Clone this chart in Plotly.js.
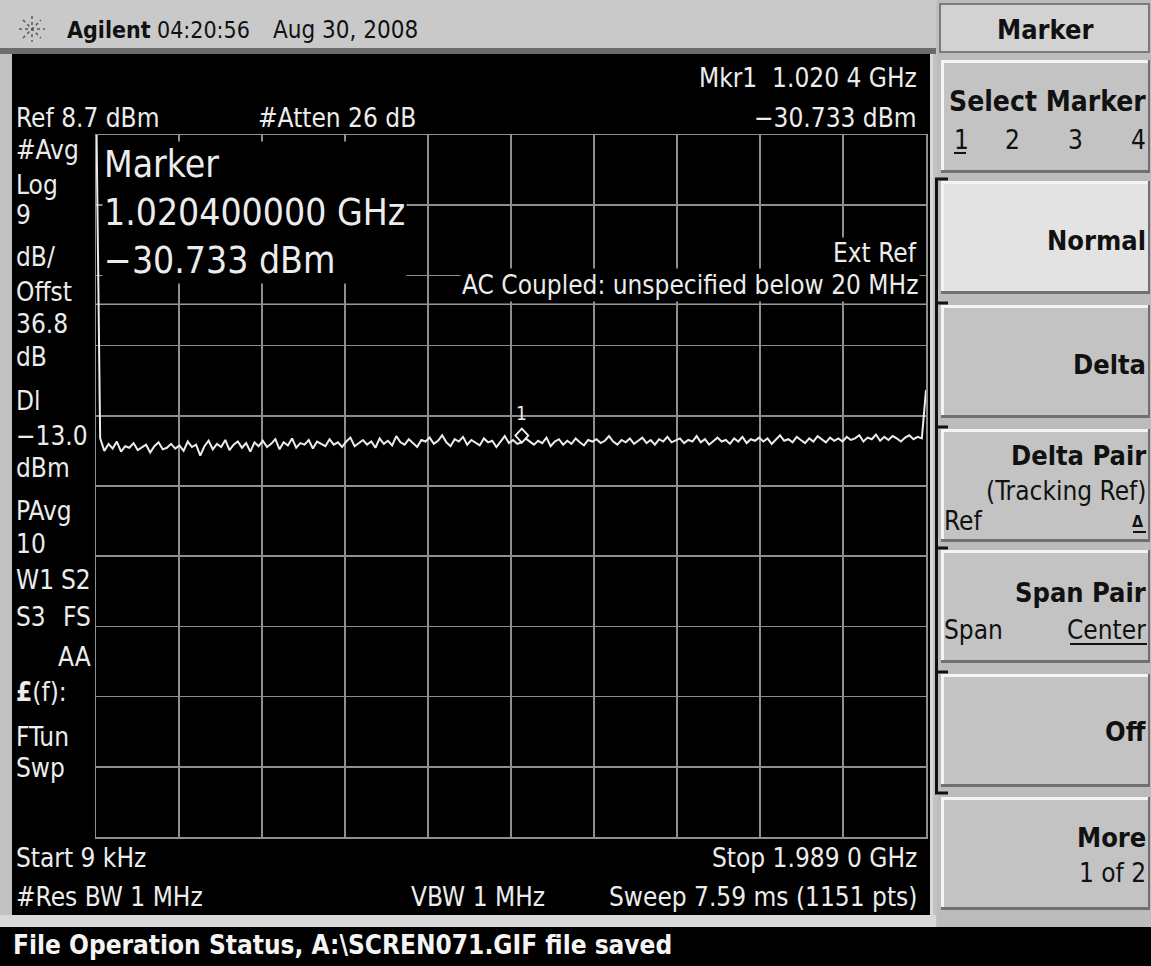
<!DOCTYPE html>
<html><head><meta charset="utf-8">
<script src="https://cdn.plot.ly/plotly-3.0.1.min.js"></script>
<style>html,body{margin:0;padding:0;background:#c2c2c2;overflow:hidden}</style>
</head><body><div id="chart" style="width:1151px;height:966px"></div>
<script>
// ---- instrument settings / data ----
const startGHz = 0.000009;
const stopGHz = 1.989;
const refLevel = 8.7;      // dBm
const dbPerDiv = 9;
const nDiv = 10;
const dlLevel = -13.0;     // display line, dBm
const mkrFreq = 1.0204;    // GHz
const mkrAmp = -30.733;    // dBm

// trace amplitudes (dBm), read left to right across the sweep
const traceAmp = [
 15.0, -30.2, -31.8, -30.9, -31.5, -30.6, -31.9, -31.2, -31.4, -30.8, -31.7, -31.3, -31.0, -32.0, -31.2, -30.7, -31.6, -31.4, -30.9, -31.5,
 -31.1, -31.8, -30.6, -31.3, -31.0, -32.4, -31.2, -30.5, -31.6, -30.9, -31.3, -30.4, -31.7, -31.0, -30.6, -31.4, -30.8, -31.9, -30.7, -31.2,
 -30.5, -31.3, -30.9, -30.3, -31.6, -30.7, -31.1, -30.2, -31.4, -30.8, -31.0, -30.4, -31.5, -30.6, -30.9, -31.2, -30.3, -31.0, -30.7, -31.3,
 -30.6, -30.1, -31.2, -30.8, -30.4, -31.0, -30.6, -31.4, -30.2, -30.9, -30.5, -31.1, -29.9, -30.7, -31.0, -30.3, -30.8, -31.3, -30.4, -30.6,
 -30.1, -30.9, -30.5, -29.8, -30.7, -31.2, -30.3, -30.6, -30.0, -31.0, -30.4, -30.8, -31.1, -30.2, -30.7, -30.5, -31.3, -30.6, -29.9, -30.8,
 -30.4, -30.9, -30.7, -30.2, -30.6, -31.0, -30.5, -30.8, -30.1, -31.2, -30.6, -30.3, -31.0, -30.5, -30.9, -30.2, -30.7, -31.1, -30.4, -30.6,
 -30.3, -30.8, -30.5, -29.9, -30.6, -31.0, -30.4, -30.7, -30.2, -30.9, -30.5, -30.1, -30.8, -30.4, -31.0, -30.3, -30.6, -30.0, -30.7, -30.5,
 -30.2, -30.8, -30.4, -30.6, -29.9, -30.7, -30.3, -31.0, -30.5, -30.1, -30.6, -30.4, -30.9, -30.2, -30.6, -30.0, -30.8, -30.3, -30.5, -30.1,
 -30.6, -30.2, -30.9, -30.4, -29.8, -30.5, -30.3, -30.7, -30.0, -30.4, -30.8, -30.2, -30.6, -29.9, -30.3, -30.7, -30.1, -30.5, -30.2, -30.6,
 -30.0, -30.4, -30.2, -29.8, -30.6, -30.1, -30.3, -29.7, -30.5, -30.0, -30.4, -29.9, -30.2, -30.6, -30.1, -29.8, -30.3, -30.0, -30.2, -24.0
];
// sweep frequencies: evenly spaced points from start to stop
const traceFreq = traceAmp.map((_, i) => startGHz + i * (stopGHz - startGHz) / (traceAmp.length - 1));

// ---- text labels ----
const leftLabels = ["#Avg","Log","9","dB/","Offst","36.8","dB","Dl","−13.0","dBm","PAvg","10"];
const softTitle = "Marker";

// ---- layout helpers ----
const W = 1151, H = 966;
const px = x => x / W, py = y => 1 - y / H;
const SCR = "'Liberation Sans Narrow','DejaVu Sans Condensed','Arial Narrow',sans-serif";
const scrCol = '#ececec';
const ann = [];
function T(x, y, text, o) {
  o = o || {};
  ann.push({xref:'paper', yref:'paper', x:px(x), y:py(y), text:text, showarrow:false,
    xanchor:o.xa || 'left', yanchor:'middle', align:o.al || 'left', bgcolor:o.bg, borderpad:o.pad||0,
    font:{family:o.fam || SCR, size:o.size || 26, color:o.col || scrCol}});
}
const shapes = [];
function R(x0, y0, x1, y1, fill, line, lw, layer) {
  shapes.push({type:'rect', xref:'paper', yref:'paper', x0:px(x0), x1:px(x1), y0:py(y0), y1:py(y1),
    fillcolor:fill, line:{color:line||'rgba(0,0,0,0)', width:lw||0}, layer:layer||'below'});
}
function L(x0, y0, x1, y1, col, lw, layer) {
  shapes.push({type:'line', xref:'paper', yref:'paper', x0:px(x0), x1:px(x1), y0:py(y0), y1:py(y1),
    line:{color:col, width:lw||1}, layer:layer||'below'});
}

// frame pieces
R(0, 0, 936, 49, '#c9c9c9');
R(0, 48, 936, 54, '#6c6c6c');
R(12, 54, 931, 915, '#000000');
L(931.5, 54, 931.5, 915, '#d8d8d8', 3);
R(0, 915, 936, 927, '#d9d9d9');
R(0, 927, W, H, '#000000');
// star icon
[[32,16,32,42],[19,29,45,29],[23,20,41,38],[23,38,41,20]].forEach(s => {
  shapes.push({type:'line', xref:'paper', yref:'paper', x0:px(s[0]), y0:py(s[1]), x1:px(s[2]), y1:py(s[3]),
    line:{color:'#5a5a5a', width:1.5, dash:'dot'}, layer:'below'});
});

// soft key panel
R(937, 0, W, 927, '#bcbcbc');
R(940, 4, 1149, 52, '#d2d2d2', '#7a7a7a', 2);
const keyTops = [60, 181, 305, 429, 550, 674, 797];
const keyH = 113;
keyTops.forEach((t, i) => {
  R(941, t, 1150, t + keyH, i === 1 ? '#e3e3e3' : '#c3c3c3');
  L(941, t + 1.5, 1150, t + 1.5, '#f4f4f4', 3);
  L(942.5, t, 942.5, t + keyH, '#f4f4f4', 3);
  L(941, t + keyH - 1.5, 1150, t + keyH - 1.5, '#707070', 3);
  L(1149, t, 1149, t + keyH, '#707070', 2);
});
// bracket grouping Normal..Off
L(936.5, 179, 936.5, 793, '#111111', 3);
[179, 303, 427, 548, 672, 793].forEach(y => L(935, y, 948, y, '#111111', 3));

// ---- screen texts ----
T(15, 118, `Ref ${refLevel} dBm`);
T(257, 118, "#Atten 26 dB");
T(918, 78, "Mkr1  1.020 4 GHz", {xa:'right'});
T(918, 118, "−30.733 dBm", {xa:'right'});
const leftY = [150,185,215,257,292,324,357,401,436,468,511,544];
leftLabels.forEach((s, i) => T(15, leftY[i], s));
T(15, 580, "W1"); T(92, 580, "S2", {xa:'right'});
T(15, 617, "S3"); T(92, 617, "FS", {xa:'right'});
T(92, 657, "AA", {xa:'right'});
T(15, 692, "<b>£</b>(f):");
T(15, 737, "FTun");
T(15, 768, "Swp");
T(102, 212, "Marker<br>1.020400000 GHz<br>−30.733 dBm", {size:37, bg:'#000', pad:1});
T(918, 253, "Ext Ref", {xa:'right', bg:'#000'});
T(920, 285, "AC Coupled: unspecified below 20 MHz", {xa:'right', bg:'#000', pad:1});
T(15, 858, "Start 9 kHz");
T(918, 858, "Stop 1.989 0 GHz", {xa:'right'});
T(15, 897, "#Res BW 1 MHz");
T(410, 897, "VBW 1 MHz");
T(918, 897, "Sweep 7.59 ms (1151 pts)", {xa:'right'});
T(12, 945, "<b>File Operation Status, A:\\SCREN071.GIF file saved</b>", {col:'#f4f4f4', size:26});

// top bar
T(66, 30, "<b>Agilent</b>", {col:'#111', size:23});
T(156, 30, "04:20:56", {col:'#111', size:23});
T(272, 30, "Aug 30, 2008", {col:'#111', size:24});

// soft keys
const KC = '#111';
ann.push({xref:'paper', yref:'paper', x:px(1045), y:py(29), text:`<b>${softTitle}</b>`, showarrow:false,
  xanchor:'center', yanchor:'middle', font:{family:SCR, size:27, color:KC}});
T(1147, 102, "<b>Select Marker</b>", {xa:'right', col:KC, size:28});
T(953, 140, "1", {col:KC, size:26});
ann.push({xref:'paper', yref:'paper', x:px(1012), y:py(140), text:"2", showarrow:false, xanchor:'center', yanchor:'middle', font:{family:SCR, size:26, color:KC}});
ann.push({xref:'paper', yref:'paper', x:px(1075), y:py(140), text:"3", showarrow:false, xanchor:'center', yanchor:'middle', font:{family:SCR, size:26, color:KC}});
T(1147, 140, "4", {xa:'right', col:KC, size:26});
L(954, 153, 966, 153, KC, 2, 'above');
T(1147, 240, "<b>Normal</b>", {xa:'right', col:KC, size:27});
T(1147, 364, "<b>Delta</b>", {xa:'right', col:KC, size:27});
T(1147, 455, "<b>Delta Pair</b>", {xa:'right', col:KC, size:27});
T(1147, 491, "(Tracking Ref)", {xa:'right', col:KC, size:26});
T(943, 521, "Ref", {col:KC, size:26});
T(1145, 521, "<b>Δ</b>", {xa:'right', col:KC, size:16});
L(1133, 532, 1146, 532, KC, 2, 'above');
T(1147, 592, "<b>Span Pair</b>", {xa:'right', col:KC, size:27});
T(943, 630, "Span", {col:KC, size:26});
T(1147, 630, "Center", {xa:'right', col:KC, size:26});
L(1070, 644, 1147, 644, KC, 2, 'above');
T(1147, 731, "<b>Off</b>", {xa:'right', col:KC, size:27});
T(1147, 837, "<b>More</b>", {xa:'right', col:KC, size:27});
T(1147, 873, "1 of 2", {xa:'right', col:KC, size:26});

// display line
shapes.push({type:'line', xref:'x', yref:'y', x0:startGHz, x1:stopGHz, y0:dlLevel, y1:dlLevel,
  line:{color:'#9a9a9a', width:1.5}, layer:'below'});
// marker diamond (bottom tip on the marker point)
shapes.push({type:'path', xref:'x', yref:'y', xsizemode:'pixel', ysizemode:'pixel',
  xanchor:mkrFreq, yanchor:mkrAmp, path:'M0,0 L6.5,7 L0,14 L-6.5,7 Z',
  line:{color:'#f2f2f2', width:1.8}, fillcolor:'#000', layer:'above'});
ann.push({xref:'x', yref:'y', x:mkrFreq, y:mkrAmp, yshift:30, text:'1', showarrow:false,
  font:{family:SCR, size:19, color:scrCol}});

const span = stopGHz - startGHz;
const axBase = {showticklabels:false, ticks:'', zeroline:false, showgrid:true, gridcolor:'#8e8e8e',
  gridwidth:1.5, showline:true, linecolor:'#8e8e8e', linewidth:1.5, mirror:true, fixedrange:true};

const data = [{
  x: traceFreq, y: traceAmp, type:'scatter', mode:'lines',
  line:{color:'#ececec', width:2}, hoverinfo:'skip'
}];

const layout = {
  width:W, height:H, margin:{l:0, r:0, t:0, b:0},
  paper_bgcolor:'#c2c2c2', plot_bgcolor:'#000', showlegend:false,
  xaxis: Object.assign({}, axBase, {domain:[px(96), px(926)], range:[startGHz, stopGHz], tick0:startGHz, dtick:span/nDiv}),
  yaxis: Object.assign({}, axBase, {domain:[py(837), py(135)], range:[refLevel - dbPerDiv*nDiv, refLevel], tick0:refLevel, dtick:dbPerDiv}),
  shapes: shapes, annotations: ann
};
Plotly.newPlot('chart', data, layout, {displayModeBar:false, staticPlot:true});
</script></body></html>
